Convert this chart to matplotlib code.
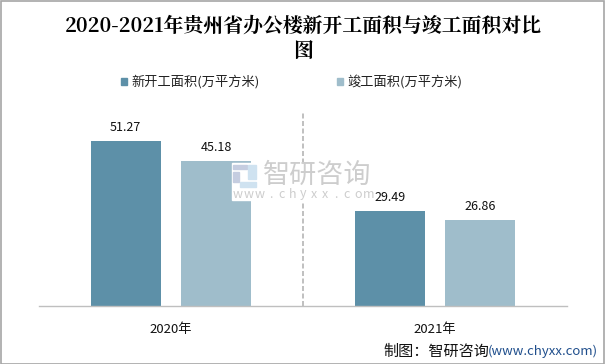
import matplotlib
matplotlib.use('Agg')
import matplotlib.pyplot as plt
from matplotlib.patches import Rectangle

plt.rcParams['font.family'] = ['Noto Sans CJK SC', 'DejaVu Sans']

title = '2020-2021年贵州省办公楼新开工面积与竣工面积对比\n图'
categories = ['2020年', '2021年']
series_names = ['新开工面积(万平方米)', '竣工面积(万平方米)']
new_start = [51.27, 29.49]
completed = [45.18, 26.86]
colors = ['#5D90A8', '#9FBDCB']

W, H = 605, 364
fig = plt.figure(figsize=(W / 100, H / 100), dpi=100, facecolor='white')

def fx(x): return x / W
def fy(y): return 1 - y / H

left, right, top, bottom = 39, 567, 113, 306
ax = fig.add_axes([fx(left), fy(bottom), (right - left) / W, (bottom - top) / H])
ax.set_xlim(-0.5, 1.5)
ax.set_ylim(0, 60)
ax.patch.set_alpha(0)
for s in ['top', 'left', 'right']:
    ax.spines[s].set_visible(False)
ax.spines['bottom'].set_color('#BFBFBF')
ax.spines['bottom'].set_linewidth(1)
ax.set_yticks([])
ax.set_xticks([0, 1])
ax.set_xticklabels(categories, fontsize=9.5, color='#111111')
ax.tick_params(axis='x', length=0, pad=12)

offset, width = 0.172, 0.265
for i, (a, b) in enumerate(zip(new_start, completed)):
    ax.bar(i - offset, a, width, color=colors[0], zorder=2)
    ax.bar(i + offset, b, width, color=colors[1], zorder=2)
    ax.annotate(f'{a:.2f}', (i - offset, a), xytext=(0, 9.5), textcoords='offset points',
                ha='center', va='center', fontsize=9, color='#111111', zorder=5)
    ax.annotate(f'{b:.2f}', (i + offset, b), xytext=(0, 9.5), textcoords='offset points',
                ha='center', va='center', fontsize=9, color='#111111', zorder=5)

ax.axvline(0.5, color='#B5B5B5', lw=1.2, ls=(0, (3, 1.5)), zorder=1)

# title
fig.text(fx(303), fy(39), title, ha='center', va='center', fontsize=14.3,
         family=['Noto Serif CJK SC', 'Liberation Serif', 'Noto Sans CJK SC'], fontweight='bold',
         linespacing=1.25, color='#000000')

# legend
fig.patches.append(Rectangle((fx(121), fy(85)), 6 / W, 7 / H, transform=fig.transFigure, color=colors[0]))
fig.patches.append(Rectangle((fx(337), fy(85)), 6 / W, 7 / H, transform=fig.transFigure, color=colors[1]))
fig.text(fx(131), fy(82), series_names[0], ha='left', va='center', fontsize=9.5, color='#222222')
fig.text(fx(347), fy(82), series_names[1], ha='left', va='center', fontsize=9.5, color='#222222')

# watermark
fig.patches.append(Rectangle((fx(232), fy(200)), 92 / W, 37 / H, transform=fig.transFigure,
                             color='white', zorder=3))
for (x, y, w, h, c) in [(233, 165, 14, 4, '#C5CDE0'), (233, 172, 6, 10, '#C5CDE0'),
                        (248, 165, 8, 14, '#CFE2F0'), (240, 182, 16, 5, '#CFE2F0')]:
    fig.patches.append(Rectangle((fx(x), fy(y + h)), w / W, h / H, transform=fig.transFigure,
                                 color=c, zorder=4))
fig.text(fx(263), fy(175), '智研咨询', ha='left', va='center', fontsize=19.5, color='#CDCDCD', zorder=4)
for k, ch in enumerate('www.chyxx.com'):
    fig.text(fx(238 + k * 10.9), fy(194), ch, ha='center', va='center', fontsize=9,
             color='#CDCDCD', zorder=4)

# source
fig.text(fx(383.5), fy(351), '制图：智研咨询', ha='left', va='center', fontsize=10.9, color='#111111')
fig.text(fx(488), fy(351), '(www.chyxx.com)', ha='left', va='center', fontsize=9.5, color='#1F4E8C')

# image frame
fig.add_artist(Rectangle((0.5 / W, 0.5 / H), (W - 1.5) / W, (H - 1.5) / H, transform=fig.transFigure,
                         fill=False, ec='#A6A6A6', lw=1.2))

fig.savefig('out.png', dpi=100, facecolor='white')
